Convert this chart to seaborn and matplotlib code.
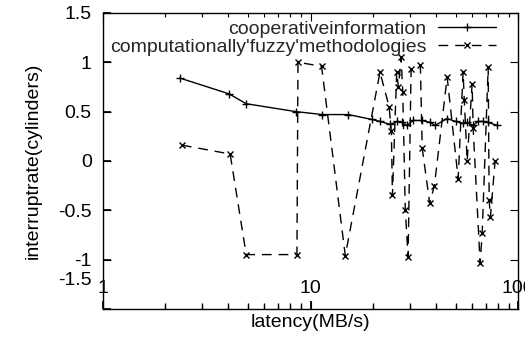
import matplotlib
matplotlib.use("Agg")
import matplotlib.pyplot as plt
import matplotlib.transforms as mtransforms
from matplotlib.ticker import LogLocator, FixedLocator
import seaborn as sns
import pandas as pd

# --- data ---
coop_x = [2.35, 4.05, 4.9, 8.5, 11.4, 15.2, 19.8, 21.6, 24.2, 26.1, 27.5, 29.2,
          31.2, 34.4, 37.7, 39.8, 45.5, 50.0, 54.3, 57.0, 60.7, 64.0, 67.7, 71.6, 79.4]
coop_y = [0.84, 0.68, 0.58, 0.50, 0.47, 0.47, 0.42, 0.40, 0.37, 0.40, 0.39, 0.36,
          0.41, 0.41, 0.39, 0.36, 0.43, 0.40, 0.38, 0.39, 0.36, 0.40, 0.40, 0.39, 0.36]

fuzzy_x = [2.4, 4.1, 4.9, 8.6, 8.7, 11.3, 14.7, 21.6, 23.9, 24.5, 24.8, 26.0, 26.5,
           27.3, 27.8, 28.6, 29.5, 30.5, 33.8, 34.5, 37.5, 39.5, 45.5, 51.4, 54.3,
           55.0, 56.8, 60.0, 60.7, 65.6, 67.1, 71.7, 72.5, 73.5, 77.4]
fuzzy_y = [0.16, 0.07, -0.95, -0.95, 1.00, 0.96, -0.96, 0.90, 0.55, 0.30, -0.35, 0.90,
           0.75, 1.05, 0.70, -0.50, -0.97, 0.93, 0.97, 0.13, -0.43, -0.25, 0.85, -0.18,
           0.90, 0.62, 0.00, 0.78, 0.33, -1.04, -0.73, 0.95, -0.40, -0.57, 0.00]

y_ticks = [-1.5, -1, -0.5, 0, 0.5, 1, 1.5]
y_ticklabels = ["-1.5", "-1", "-0.5", "0", "0.5", "1", "1.5"]
x_ticks = [1, 10, 100]
x_ticklabels = ["1", "10", "100"]

coop_label = "cooperativeinformation"
fuzzy_label = "computationally'fuzzy'methodologies"

sns.set_theme(style="ticks", rc={
    "xtick.direction": "in", "ytick.direction": "in",
    "xtick.color": "black", "ytick.color": "black",
    "axes.edgecolor": "black", "axes.linewidth": 1.0,
})
plt.rcParams["font.family"] = ["Liberation Sans", "DejaVu Sans"]

fig = plt.figure(figsize=(5.25, 3.42), dpi=100)
pos = [0.196, 0.097, 0.791, 0.865]
ax = fig.add_axes(pos)

coop = pd.DataFrame({"x": coop_x, "y": coop_y})
fuzzy = pd.DataFrame({"x": fuzzy_x, "y": fuzzy_y})

sns.lineplot(data=coop, x="x", y="y", ax=ax, color="black", lw=1.0,
             marker="+", ms=6, mew=1.0, mec="black",
             estimator=None, label=coop_label)
sns.lineplot(data=fuzzy, x="x", y="y", ax=ax, color="black", lw=1.0,
             marker="x", ms=4.5, mew=1.0, mec="black",
             estimator=None, label=fuzzy_label)

l_coop, l_fuzzy = ax.lines[0], ax.lines[1]
l_coop.set_marker("+")
l_coop.set_markeredgecolor("black")
l_fuzzy.set_marker("x")
l_fuzzy.set_markeredgecolor("black")
l_fuzzy.set_linestyle((0, (7, 5)))

ax.set_xscale("log")
ax.set_xlim(1, 100)
ax.set_ylim(-1.5, 1.5)
ax.yaxis.set_major_locator(FixedLocator(y_ticks))
ax.set_yticklabels(y_ticklabels)
ax.xaxis.set_major_locator(FixedLocator(x_ticks))
ax.set_xticklabels(x_ticklabels)
ax.xaxis.set_minor_locator(LogLocator(base=10, subs=range(2, 10)))

ax.set_xlabel("latency(MB/s)", fontsize=14, labelpad=0, color="black")
ax.set_ylabel("interruptrate(cylinders)", fontsize=14, labelpad=12, color="black")

leg = ax.legend(handles=[l_coop, l_fuzzy], labels=[coop_label, fuzzy_label],
                loc="upper right", bbox_to_anchor=(0.947, 0.975), frameon=False,
                markerfirst=False, fontsize=14, handlelength=3.0, handletextpad=0.6,
                labelspacing=0.0, borderpad=0, borderaxespad=0)

ax.tick_params(axis="both", which="both", labelsize=14, labelcolor="black")
ax.tick_params(axis="x", which="major", pad=-21)
ax.tick_params(axis="y", which="major", pad=8)

# overlay axes that only carries the inward, mirrored gnuplot tick marks
tax = fig.add_axes(pos, sharex=ax, sharey=ax)
tax.patch.set_visible(False)
for s in tax.spines.values():
    s.set_visible(False)
tax.grid(False)
tax.tick_params(axis="both", which="both", direction="in", color="black",
                bottom=True, top=True, left=True, right=True,
                labelbottom=False, labeltop=False, labelleft=False, labelright=False)
tax.tick_params(axis="both", which="major", length=6, width=0.8)
tax.tick_params(axis="x", which="minor", length=3, width=0.8)
tax.set_xlabel("")
tax.set_ylabel("")

# lowest y label sits higher, as in the original
lab = ax.get_yticklabels()[0]
lab.set_transform(lab.get_transform() + mtransforms.ScaledTranslation(0, 0.3, fig.dpi_scale_trans))

fig.savefig("out.png", dpi=100)
